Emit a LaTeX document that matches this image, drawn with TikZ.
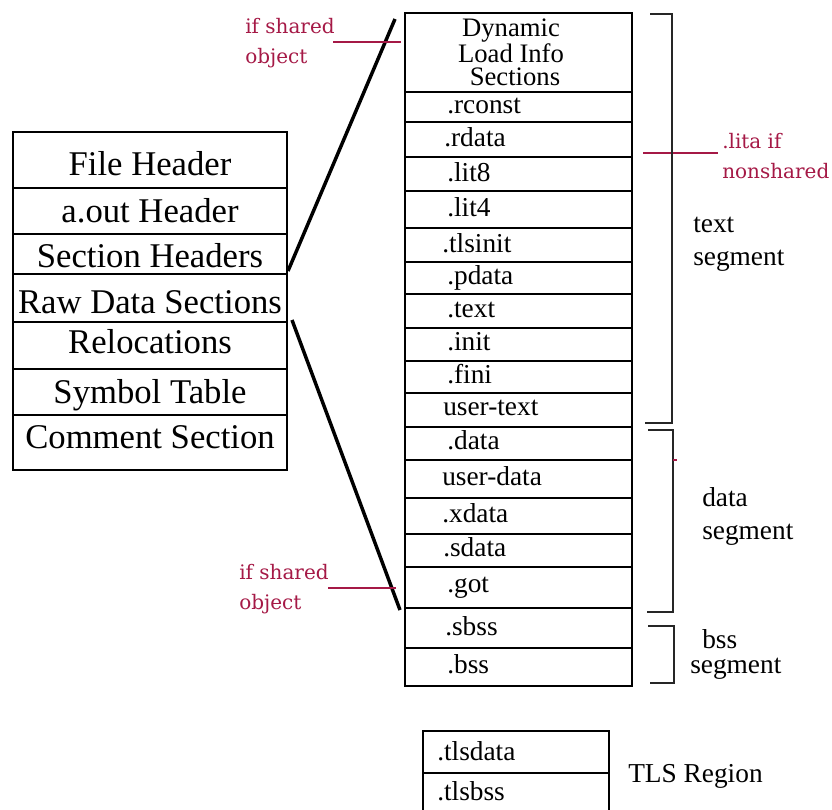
\documentclass[tikz,border=0pt]{standalone}
\usepackage{fontspec}
\setmainfont{Liberation Serif}
\newfontfamily\redfont{DejaVu Serif}
\definecolor{annot}{RGB}{165,25,70}
\begin{document}
\begin{tikzpicture}[x=0.75pt,y=-0.75pt,
  outer/.style={line width=2.2pt},
  divider/.style={line width=1.4pt},
  thin divider/.style={line width=1.2pt},
  link/.style={line width=2.6pt},
  annotline/.style={line width=1pt, draw=annot},
  brace/.style={line width=1.1pt, draw=black!85},
  bigtxt/.style={font=\fontsize{26}{26}\selectfont, inner sep=0pt, anchor=base},
  sectxt/.style={font=\fontsize{20.5}{20.5}\selectfont, inner sep=0pt, anchor=mid west},
  lbl/.style={font=\fontsize{20.5}{20.5}\selectfont, inner sep=0pt, anchor=base west},
  redtxt/.style={font=\redfont\fontsize{15}{22.5}\selectfont, text=annot, align=left, anchor=base west, inner sep=0pt}]
\useasboundingbox (0,0) rectangle (832,810);

% ---------- left box ----------
\foreach \y in {188,234,274,322,369,415} \draw[divider] (13,\y) -- (287,\y);
\draw[outer] (13,132) rectangle (287,470);
\node[bigtxt] (fh)  at (150,175) {File Header};
\node[bigtxt] (ah)  at (150,222) {a.out Header};
\node[bigtxt] (shd) at (150,267) {Section Headers};
\node[bigtxt] (raw) at (150,313) {Raw Data Sections};
\node[bigtxt] (rel) at (150,353) {Relocations};
\node[bigtxt] (sym) at (150,403) {Symbol Table};
\node[bigtxt] (com) at (150,448) {Comment Section};

% ---------- middle column ----------
\foreach \y in {92,122,157,191,228,262,294,328,361,393,427,460,498,534,567,608,648}
  \draw[thin divider] (405,\y) -- (632,\y);
\draw[outer] (405,13) rectangle (632,686);
\node[font=\fontsize{20}{17}\selectfont, align=center, anchor=base, inner sep=0pt] (dyn) at (511,85) {Dynamic\\Load Info\\\hspace*{6pt}Sections};
\node[sectxt] (rconst) at (447,110) {.rconst};
\node[sectxt] (rdata)  at (444,143) {.rdata};
\node[sectxt] (lit8)   at (447,178) {.lit8};
\node[sectxt] (lit4)   at (447,213) {.lit4};
\node[sectxt] (tlsini) at (442,249) {.tlsinit};
\node[sectxt] (pdata)  at (447,281) {.pdata};
\node[sectxt] (text)   at (447,314) {.text};
\node[sectxt] (init)   at (447,347) {.init};
\node[sectxt] (fini)   at (447,380) {.fini};
\node[sectxt] (utext)  at (443,412) {user-text};
\node[sectxt] (data)   at (447,446) {.data};
\node[sectxt] (udata)  at (442,482) {user-data};
\node[sectxt] (xdata)  at (442,519) {.xdata};
\node[sectxt] (sdata)  at (443,553) {.sdata};
\node[sectxt] (got)    at (447,589) {.got};
\node[sectxt] (sbss)   at (445,632) {.sbss};
\node[sectxt] (bss)    at (447,670) {.bss};

% ---------- expansion lines ----------
\coordinate (shcorner) at (288,271);
\coordinate (dyntop)   at (395,19);
\coordinate (rawcorner) at (292,320);
\coordinate (gotbot)   at (400,610);
\draw[link] (shcorner) -- (dyntop);
\draw[link] (rawcorner) -- (gotbot);

% ---------- red annotations ----------
\node[redtxt] (shared1) at (245,63) {if shared\\object};
\coordinate (r1a) at (333,42);  \coordinate (r1b) at (401,42);
\draw[annotline] (r1a) -- (r1b);
\node[redtxt] (shared2) at (239,609) {if shared\\object};
\coordinate (r2a) at (328,588); \coordinate (r2b) at (396,588);
\draw[annotline] (r2a) -- (r2b);
\node[redtxt] (lita) at (722,178) {.lita if\\nonshared};
\coordinate (r3a) at (643,153); \coordinate (r3b) at (718,153);
\draw[annotline] (r3a) -- (r3b);

% ---------- brackets ----------
\coordinate (tb1) at (650,14);  \coordinate (tb2) at (672,14);
\coordinate (tb3) at (672,423); \coordinate (tb4) at (645,423);
\draw[brace] (tb1) -- (tb2) -- (tb3) -- (tb4);
\coordinate (db1) at (648,430); \coordinate (db2) at (673,430);
\coordinate (db3) at (673,612); \coordinate (db4) at (647,612);
\draw[brace] (db1) -- (db2) -- (db3) -- (db4);
\coordinate (dt1) at (673,460); \coordinate (dt2) at (677,460);
\draw[annotline] (dt1) -- (dt2);
\coordinate (bb1) at (648,626); \coordinate (bb2) at (674,626);
\coordinate (bb3) at (674,683); \coordinate (bb4) at (650,683);
\draw[brace] (bb1) -- (bb2) -- (bb3) -- (bb4);

\node[lbl] (tseg1) at (693,232) {text};
\node[lbl] (tseg2) at (693,265) {segment};
\node[lbl] (dseg1) at (702,506) {data};
\node[lbl] (dseg2) at (702,539) {segment};
\node[lbl] (bseg1) at (702,648) {bss};
\node[lbl] (bseg2) at (690,673) {segment};

% ---------- TLS ----------
\draw[thin divider] (423,773) -- (609,773);
\draw[outer] (423,812) -- (423,731) -- (609,731) -- (609,812);
\node[lbl] (tlsdata) at (437,760) {.tlsdata};
\node[lbl] (tlsbss)  at (437,800) {.tlsbss};
\node[lbl] (tlsreg)  at (628,782) {TLS Region};
\end{tikzpicture}
\end{document}
